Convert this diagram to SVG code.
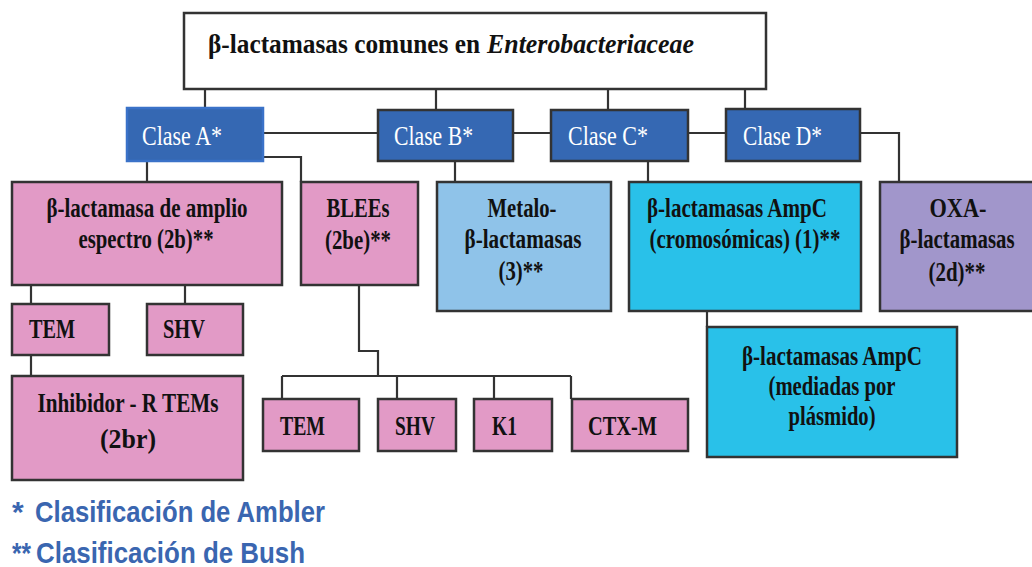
<svg xmlns="http://www.w3.org/2000/svg" width="1032" height="567" viewBox="0 0 1032 567">
<style>
.bx{stroke:#333;stroke-width:2.5}
.pink{fill:#E29AC6}
.cls{fill:#3568B3}
.t{font-family:"Liberation Serif","Times New Roman",serif;font-weight:bold;font-size:28px;fill:#111;text-anchor:middle}
.tl{font-family:"Liberation Serif","Times New Roman",serif;font-weight:bold;font-size:28px;fill:#111}
.c{font-family:"Liberation Serif","Times New Roman",serif;font-size:27px;fill:#fff}
.lg{font-family:"Liberation Sans",Arial,sans-serif;font-weight:bold;font-size:30px;fill:#3A66B0}
.ln{fill:none;stroke:#333;stroke-width:2.2}
</style>
<g id="connectors" class="ln">
<path d="M205 89V109M436 89V110M608 89V110M745 89V109"/>
<path d="M263 133H378M513 133H551M688 133H726"/>
<path d="M147 161V182"/>
<path d="M263 157H301V182"/>
<path d="M455 161V182"/>
<path d="M648 161V182"/>
<path d="M860 133H899V182"/>
<path d="M31 285V304M185 285V304M31 355V376"/>
<path d="M359 285V351H378V376M282 376H571M282 376V399M397 376V399M494 376V399M571 376V399"/>
<path d="M707 311V327"/>
</g>
<g id="title">
<rect x="184" y="13" width="582" height="76" fill="#fff" class="bx"/>
<text x="208" y="53" class="tl" font-size="29" textLength="272" lengthAdjust="spacingAndGlyphs">β-lactamasas comunes en</text>
<text x="487" y="53" class="tl" font-size="29" font-style="italic" textLength="207" lengthAdjust="spacingAndGlyphs">Enterobacteriaceae</text>
</g>
<g id="claseA">
<rect x="127" y="108" width="136" height="53" class="cls" stroke="#3A72C8" stroke-width="2.5"/>
<text x="142" y="145" class="c" textLength="80" lengthAdjust="spacingAndGlyphs">Clase A*</text>
</g>
<g id="claseB">
<rect x="378" y="110" width="135" height="51" class="cls bx"/>
<text x="394" y="145" class="c" textLength="79" lengthAdjust="spacingAndGlyphs">Clase B*</text>
</g>
<g id="claseC">
<rect x="551" y="110" width="137" height="51" class="cls bx"/>
<text x="568" y="145" class="c" textLength="80" lengthAdjust="spacingAndGlyphs">Clase C*</text>
</g>
<g id="claseD">
<rect x="726" y="109" width="134" height="52" class="cls bx"/>
<text x="743" y="145" class="c" textLength="79" lengthAdjust="spacingAndGlyphs">Clase D*</text>
</g>
<g id="amplio">
<rect x="12" y="182" width="270" height="103" class="pink bx"/>
<text x="147" y="217" class="t" textLength="201" lengthAdjust="spacingAndGlyphs">β-lactamasa de amplio</text>
<text x="146" y="248" class="t" textLength="135" lengthAdjust="spacingAndGlyphs">espectro (2b)**</text>
</g>
<g id="blees">
<rect x="301" y="182" width="117" height="103" class="pink bx"/>
<text x="358" y="217" class="t" textLength="63" lengthAdjust="spacingAndGlyphs">BLEEs</text>
<text x="358" y="249" class="t" textLength="66" lengthAdjust="spacingAndGlyphs">(2be)**</text>
</g>
<g id="metalo">
<rect x="437" y="182" width="174" height="129" fill="#8FC3E9" class="bx"/>
<text x="522" y="217" class="t" textLength="69" lengthAdjust="spacingAndGlyphs">Metalo-</text>
<text x="523" y="248" class="t" textLength="117" lengthAdjust="spacingAndGlyphs">β-lactamasas</text>
<text x="521" y="280" class="t" textLength="45" lengthAdjust="spacingAndGlyphs">(3)**</text>
</g>
<g id="ampc">
<rect x="629" y="182" width="232" height="129" fill="#29C1E9" class="bx"/>
<text x="737" y="217" class="t" textLength="180" lengthAdjust="spacingAndGlyphs">β-lactamasas AmpC</text>
<text x="745" y="248" class="t" textLength="191" lengthAdjust="spacingAndGlyphs">(cromosómicas) (1)**</text>
</g>
<g id="oxa">
<rect x="880" y="182" width="152" height="129" fill="#A196CB"/>
<path d="M1032 182H880V311H1032" fill="none" class="bx"/>
<text x="958" y="217" class="t" textLength="57" lengthAdjust="spacingAndGlyphs">OXA-</text>
<text x="957" y="248" class="t" font-size="26" textLength="115" lengthAdjust="spacingAndGlyphs">β-lactamasas</text>
<text x="957" y="281" class="t" textLength="57" lengthAdjust="spacingAndGlyphs">(2d)**</text>
</g>
<g id="tem1">
<rect x="12" y="304" width="97" height="51" class="pink bx"/>
<text x="29" y="338" class="tl" textLength="46" lengthAdjust="spacingAndGlyphs">TEM</text>
</g>
<g id="shv1">
<rect x="147" y="304" width="96" height="51" class="pink bx"/>
<text x="163" y="338" class="tl" textLength="42" lengthAdjust="spacingAndGlyphs">SHV</text>
</g>
<g id="inhibidor">
<rect x="12" y="376" width="231" height="104" class="pink bx"/>
<text x="128" y="412" class="t" textLength="181" lengthAdjust="spacingAndGlyphs">Inhibidor - R TEMs</text>
<text x="128" y="448" class="t" font-size="33" textLength="56" lengthAdjust="spacingAndGlyphs">(2br)</text>
</g>
<g id="tem2">
<rect x="263" y="399" width="96" height="52" class="pink bx"/>
<text x="280" y="435" class="tl" textLength="45" lengthAdjust="spacingAndGlyphs">TEM</text>
</g>
<g id="shv2">
<rect x="378" y="399" width="78" height="52" class="pink bx"/>
<text x="395" y="435" class="tl" textLength="40" lengthAdjust="spacingAndGlyphs">SHV</text>
</g>
<g id="k1">
<rect x="474" y="399" width="78" height="52" class="pink bx"/>
<text x="492" y="435" class="tl" textLength="25" lengthAdjust="spacingAndGlyphs">K1</text>
</g>
<g id="ctxm">
<rect x="572" y="399" width="116" height="52" class="pink bx"/>
<text x="588" y="435" class="tl" textLength="69" lengthAdjust="spacingAndGlyphs">CTX-M</text>
</g>
<g id="plasmido">
<rect x="707" y="327" width="250" height="130" fill="#29C1E9" class="bx"/>
<text x="832" y="365" class="t" textLength="180" lengthAdjust="spacingAndGlyphs">β-lactamasas AmpC</text>
<text x="832" y="395" class="t" textLength="127" lengthAdjust="spacingAndGlyphs">(mediadas por</text>
<text x="832" y="425" class="t" textLength="87" lengthAdjust="spacingAndGlyphs">plásmido)</text>
</g>
<g id="legend">
<text class="lg" y="522"><tspan x="12">*</tspan><tspan x="35" textLength="290" lengthAdjust="spacingAndGlyphs">Clasificación de Ambler</tspan></text>
<text class="lg" y="563"><tspan x="12" textLength="19" lengthAdjust="spacingAndGlyphs">**</tspan><tspan x="36" textLength="269" lengthAdjust="spacingAndGlyphs">Clasificación de Bush</tspan></text>
</g>
</svg>
